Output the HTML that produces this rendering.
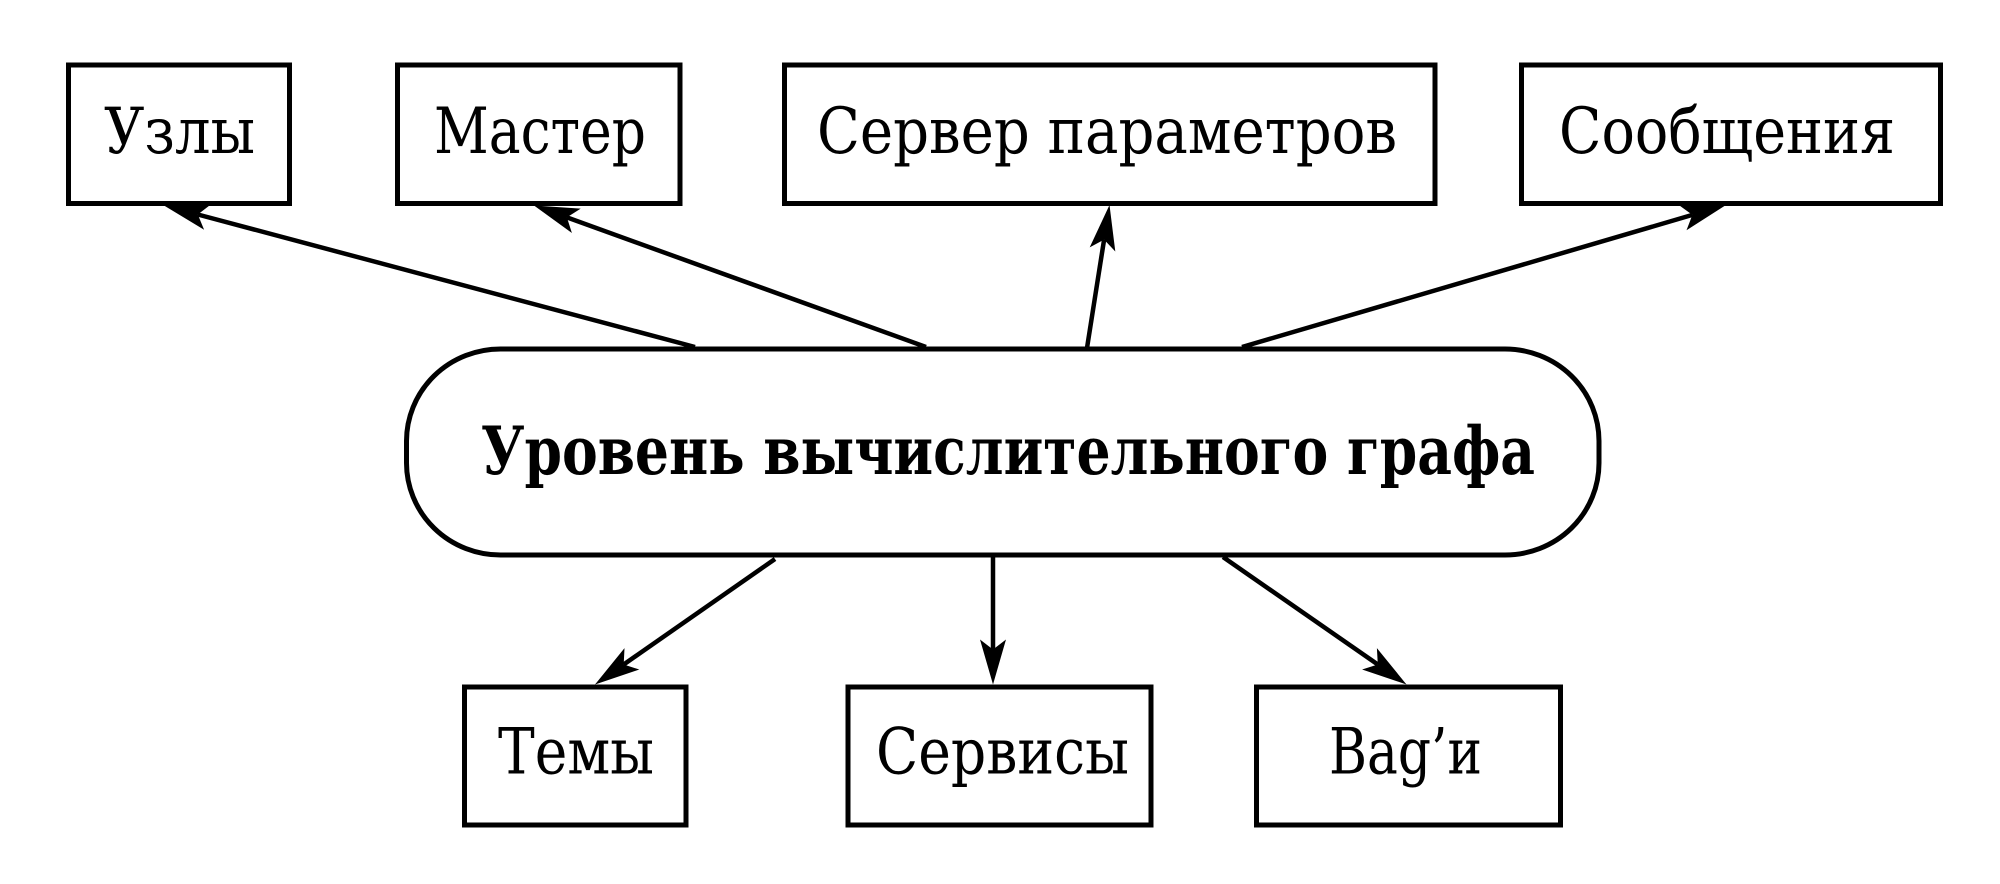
<!DOCTYPE html>
<html>
<head>
<meta charset="utf-8">
<style>
  html, body { margin: 0; padding: 0; background: #ffffff; }
  svg { display: block; }
  .t { font-family: "DejaVu Serif", "Liberation Serif", serif; font-size: 64px; fill: #000; }
  .b { font-family: "DejaVu Serif", "Liberation Serif", serif; font-size: 66px; font-weight: bold; fill: #000; }
</style>
</head>
<body>
<svg width="2000" height="884" viewBox="0 0 2000 884" xmlns="http://www.w3.org/2000/svg">
  <rect x="0" y="0" width="2000" height="884" fill="#ffffff"/>

  <!-- Top boxes -->
  <g fill="#ffffff" stroke="#000" stroke-width="5">
    <rect x="68.5" y="65" width="221" height="138.5"/>
    <rect x="397.5" y="65" width="282.5" height="138.5"/>
    <rect x="784.5" y="65" width="650.5" height="138.5"/>
    <rect x="1521.5" y="65" width="419" height="138.5"/>
  </g>

  <!-- Bottom boxes -->
  <g fill="#ffffff" stroke="#000" stroke-width="5">
    <rect x="464.5" y="687" width="221.5" height="138"/>
    <rect x="848" y="687" width="303" height="138"/>
    <rect x="1256.5" y="687" width="304" height="138"/>
  </g>

  <!-- Central pill -->
  <rect x="406.5" y="349" width="1192.5" height="206" rx="94" ry="92" fill="#ffffff" stroke="#000" stroke-width="5"/>

  <!-- Connector lines -->
  <g stroke="#000" stroke-width="4.5" fill="none">
    <line x1="695" y1="347" x2="197.8" y2="214.5"/>
    <line x1="926" y1="347" x2="566.9" y2="217.4"/>
    <line x1="1087" y1="348" x2="1104.1" y2="239.6"/>
    <line x1="1242" y1="347" x2="1692.4" y2="214.9"/>
    <line x1="775" y1="559" x2="623.7" y2="664.5"/>
    <line x1="993" y1="557" x2="993" y2="649.5"/>
    <line x1="1223" y1="557" x2="1377.8" y2="664.5"/>
  </g>

  <!-- Arrowheads -->
  <g fill="#000" stroke="none">
    <polygon points="164,205.5 210.8,204.5 197.8,214.5 204.1,229.7"/>
    <polygon points="534,205.5 580.7,208.6 566.9,217.4 571.9,233.0"/>
    <polygon points="1109.5,205 1115.3,251.5 1104.1,239.6 1089.7,247.4"/>
    <polygon points="1726,205 1686.5,230.2 1692.4,214.9 1679.1,205.2"/>
    <polygon points="595,684.5 624.5,648.1 623.7,664.5 639.3,669.5"/>
    <polygon points="993,684.5 980,639.5 993,649.5 1006,639.5"/>
    <polygon points="1406.5,684.5 1362.1,669.5 1377.8,664.5 1376.9,648.1"/>
  </g>

  <!-- Labels -->
  <text class="t" x="104" y="153" textLength="151" lengthAdjust="spacingAndGlyphs">Узлы</text>
  <text class="t" x="434" y="153" textLength="212" lengthAdjust="spacingAndGlyphs">Мастер</text>
  <text class="t" x="817" y="153" textLength="580" lengthAdjust="spacingAndGlyphs">Сервер параметров</text>
  <text class="t" x="1559" y="153" textLength="336" lengthAdjust="spacingAndGlyphs">Сообщения</text>

  <text class="b" x="481" y="474" textLength="1054" lengthAdjust="spacingAndGlyphs">Уровень вычислительного графа</text>

  <text class="t" x="498" y="773.5" textLength="156" lengthAdjust="spacingAndGlyphs">Темы</text>
  <text class="t" x="876" y="773.5" textLength="253" lengthAdjust="spacingAndGlyphs">Сервисы</text>
  <text class="t" x="1329" y="773.5" textLength="153" lengthAdjust="spacingAndGlyphs">Bag’и</text>
</svg>
</body>
</html>
